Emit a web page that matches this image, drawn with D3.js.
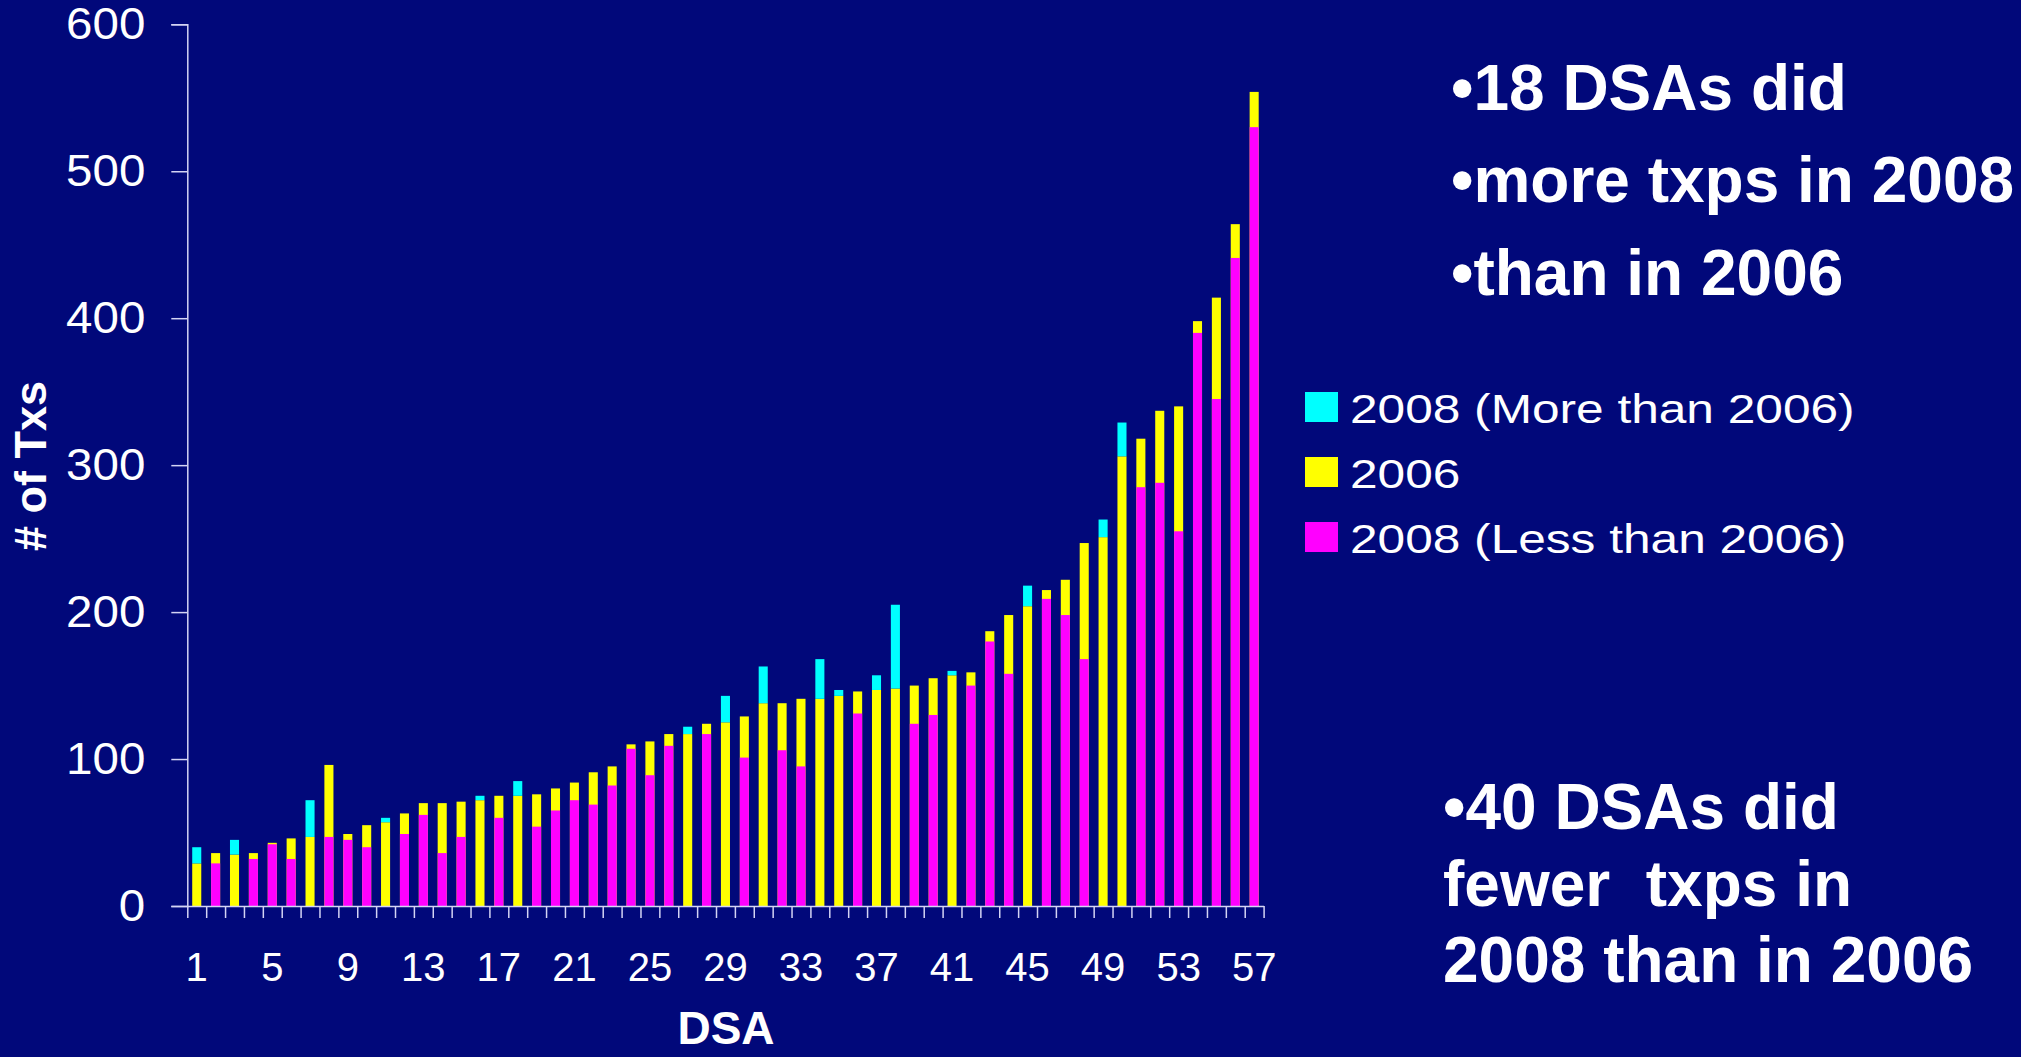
<!DOCTYPE html>
<html>
<head>
<meta charset="utf-8">
<script src="https://cdn.jsdelivr.net/npm/d3@7"></script>
<style>
  html, body { margin: 0; padding: 0; background: #01087a; overflow: hidden; }
  svg { display: block; }
  text { font-family: "Liberation Sans", Arial, sans-serif; fill: #ffffff; }
</style>
</head>
<body>
<svg id="chart" width="2021" height="1057"></svg>
<script>
// DSA index (sorted by 2006 volume)
const dsa = d3.range(1, 58);

// Transplants per DSA in 2006
const tx2006 = [29, 36, 35, 36, 43, 46, 47, 96, 49, 55,
                57, 63, 70, 70, 71, 72, 75, 75, 76, 80,
                84, 91, 95, 110, 112, 117, 117, 124, 125, 129,
                138, 138, 141, 141, 143, 146, 147, 148, 150, 155,
                157, 159, 187, 198, 204, 215, 222, 247, 251, 306,
                318, 337, 340, 398, 414, 464, 554];

// Transplants per DSA in 2008
const tx2008 = [40, 29, 45, 32, 42, 32, 72, 47, 45, 40,
                60, 49, 62, 36, 47, 75, 60, 85, 54, 65,
                72, 69, 82, 107, 89, 109, 122, 117, 143, 101,
                163, 106, 95, 168, 147, 131, 157, 205, 124, 130,
                160, 150, 180, 158, 218, 209, 198, 168, 263, 329,
                285, 288, 255, 390, 345, 441, 530];

const yTicks = [0, 100, 200, 300, 400, 500, 600];
const xLabelTicks = [1, 5, 9, 13, 17, 21, 25, 29, 33, 37, 41, 45, 49, 53, 57];

const seriesNames = ["2008 (More than 2006)", "2006", "2008 (Less than 2006)"];
const seriesColors = ["#00ffff", "#ffff00", "#ff00ff"];

const rows = dsa.map((d, i) => ({ dsa: d, v06: tx2006[i], v08: tx2008[i] }));

const svg = d3.select("#chart");
const axisColor = "#d4d4f4";

const x0 = 187.3, x1 = 1263.6, yBottom = 906, yTop = 24.3;

const x = d3.scaleBand().domain(dsa).range([x0, x1])
  .paddingInner(0.52).paddingOuter(0.26);
const xEdge = d3.scaleLinear().domain([0, dsa.length]).range([x0, x1]);
const y = d3.scaleLinear().domain([0, 600]).range([yBottom, yTop]);

// Bars: 2006 base, then 2008 either over it (lower) or on top of it (higher)
const bars = svg.append("g");
bars.selectAll("rect.y06").data(rows).join("rect")
  .attr("x", d => x(d.dsa)).attr("width", x.bandwidth())
  .attr("y", d => y(d.v06)).attr("height", d => y(0) - y(d.v06))
  .attr("fill", seriesColors[1]);
bars.selectAll("rect.less").data(rows.filter(d => d.v08 < d.v06)).join("rect")
  .attr("x", d => x(d.dsa)).attr("width", x.bandwidth())
  .attr("y", d => y(d.v08)).attr("height", d => y(0) - y(d.v08))
  .attr("fill", seriesColors[2]);
bars.selectAll("rect.more").data(rows.filter(d => d.v08 > d.v06)).join("rect")
  .attr("x", d => x(d.dsa)).attr("width", x.bandwidth())
  .attr("y", d => y(d.v08)).attr("height", d => y(d.v06) - y(d.v08))
  .attr("fill", seriesColors[0]);

// Y axis
const yAxis = svg.append("g").attr("transform", `translate(${x0},0)`)
  .call(d3.axisLeft(y).tickValues(yTicks).tickSize(16).tickPadding(26));
yAxis.select(".domain").attr("stroke", axisColor).attr("stroke-width", 1.5);
yAxis.selectAll(".tick line").attr("stroke", axisColor).attr("stroke-width", 1.5);
yAxis.selectAll(".tick text")
  .attr("font-size", 44).attr("fill", "#fff").style("font-family", '"Liberation Sans", Arial, sans-serif')
  .each(function () {
    const t = d3.select(this);
    t.attr("textLength", this.getComputedTextLength() * 1.08).attr("lengthAdjust", "spacingAndGlyphs");
  });

// X axis: category boundary ticks
const xAxis = svg.append("g").attr("transform", `translate(0,${yBottom})`)
  .call(d3.axisBottom(xEdge).tickValues(d3.range(dsa.length + 1)).tickFormat("").tickSize(12).tickSizeOuter(0));
xAxis.select(".domain").attr("stroke", axisColor).attr("stroke-width", 1.5);
xAxis.selectAll(".tick line").attr("stroke", axisColor).attr("stroke-width", 1.5);

// X axis labels, every fourth DSA
const xLab = svg.append("g").attr("transform", `translate(0,${yBottom})`)
  .call(d3.axisBottom(x).tickValues(xLabelTicks).tickSize(0).tickPadding(47));
xLab.select(".domain").remove();
xLab.selectAll(".tick text").attr("font-size", 40).attr("fill", "#fff")
  .style("font-family", '"Liberation Sans", Arial, sans-serif');

// Axis titles
svg.append("text")
  .attr("transform", "translate(46,466) rotate(-90)")
  .attr("text-anchor", "middle").attr("font-weight", "bold").attr("font-size", 45)
  .text("# of Txs");
svg.append("text")
  .attr("x", 726).attr("y", 1044)
  .attr("text-anchor", "middle").attr("font-weight", "bold").attr("font-size", 46)
  .text("DSA");

// Legend
const legend = svg.append("g");
const legendY = [392, 457, 522];
seriesNames.forEach((name, i) => {
  legend.append("rect")
    .attr("x", 1305).attr("y", legendY[i]).attr("width", 33).attr("height", 30)
    .attr("fill", seriesColors[i]);
  const t = legend.append("text")
    .attr("x", 1350).attr("y", legendY[i] + 31)
    .attr("font-size", 40).text(name);
  t.attr("textLength", t.node().getComputedTextLength() * 1.24).attr("lengthAdjust", "spacingAndGlyphs");
});

// Notes
const notesTop = ["•18 DSAs did", "•more txps in 2008", "•than in 2006"];
svg.append("g").selectAll("text").data(notesTop).join("text")
  .attr("x", 1451).attr("y", (d, i) => 110 + i * 92.3)
  .attr("font-size", 64).attr("font-weight", "bold")
  .style("white-space", "pre").text(d => d);

const notesBottom = ["•40 DSAs did", "fewer  txps in", "2008 than in 2006"];
svg.append("g").selectAll("text").data(notesBottom).join("text")
  .attr("x", 1443).attr("y", (d, i) => 829 + i * 76.5)
  .attr("font-size", 64).attr("font-weight", "bold")
  .style("white-space", "pre").text(d => d);
</script>
</body>
</html>
